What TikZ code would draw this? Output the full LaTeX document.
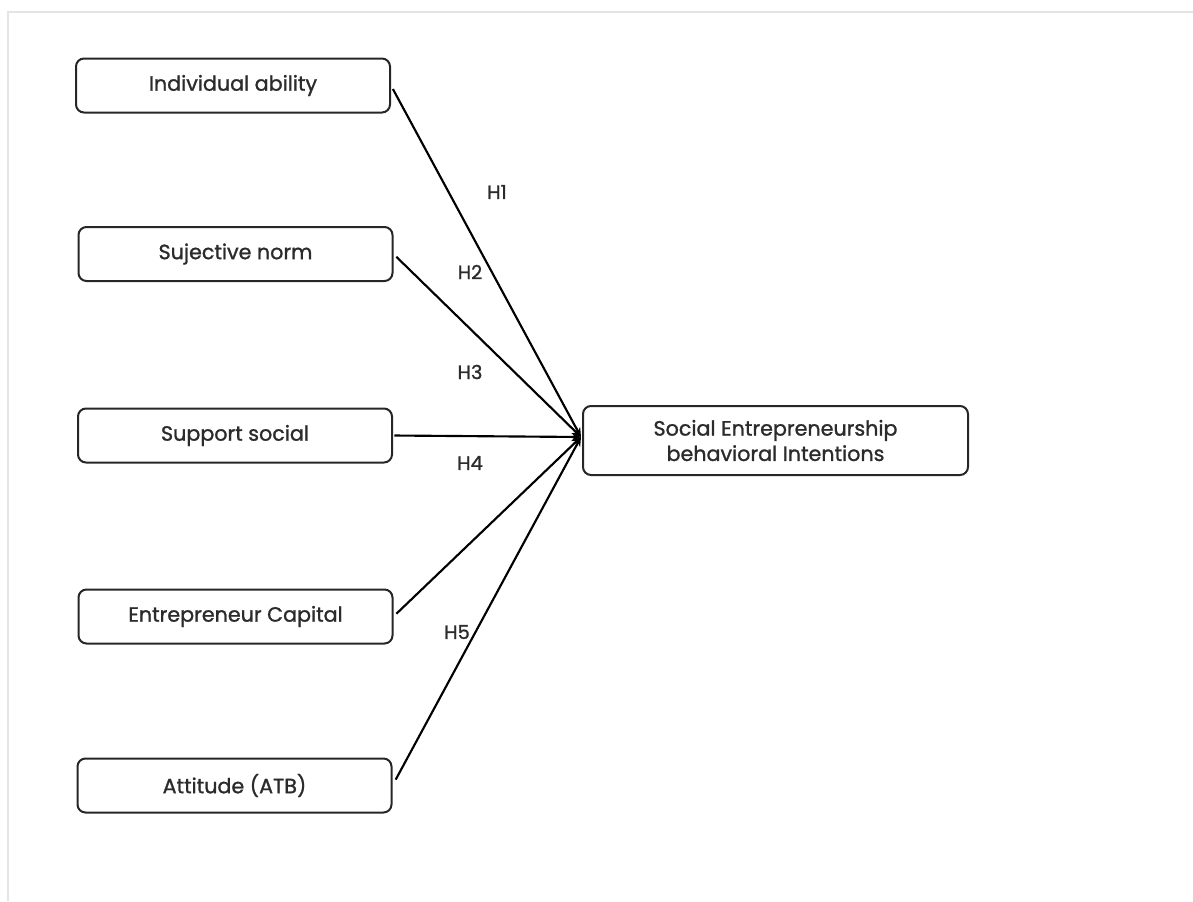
\documentclass[tikz,border=0pt]{standalone}
\usepackage{fontspec}
\setmainfont{Poppins}[FakeBold=1.2,AutoFakeBold=1.2]
\usetikzlibrary{arrows.meta}
\definecolor{txt}{HTML}{2B2B2B}
\definecolor{frame}{HTML}{E4E4E4}
\begin{document}
\begin{tikzpicture}[x=0.75pt,y=-0.75pt,
  box/.style={draw=black!85,line width=1.5pt,rounded corners=6pt,minimum width=235.5pt,minimum height=40.5pt,inner sep=0pt,font=\fontsize{15.5}{18}\selectfont\bfseries,text=txt},
  tbox/.style={box,minimum width=288.75pt,minimum height=51.75pt,align=center,font=\fontsize{15.5}{19}\selectfont\bfseries},
  link/.style={line width=1.6pt,black,shorten <=3pt,-{Stealth[length=7pt,width=6pt]}},
  hlab/.style={font=\fontsize{14.5}{16}\selectfont\bfseries,text=txt}]
\useasboundingbox (0,0) rectangle (1193,901);
\draw[frame,line width=1.2pt] (8,901) -- (8,12) -- (1193,12);
\node[box] (b1) at (233,85.5) {Individual ability};
\node[box] (b2) at (235.5,254) {Sujective norm};
\node[box] (b3) at (235,435.5) {Support social};
\node[box] (b4) at (235.5,616.5) {Entrepreneur Capital};
\node[box] (b5) at (234.5,785.5) {Attitude (ATB)};
\node[tbox] (t) at (775.5,440.5) {Social Entrepreneurship\\behavioral Intentions};
\coordinate (hub) at (581,437);
\draw[link] (b1.east) -- (hub);
\draw[link] (b2.east) -- (hub);
\draw[link,shorten <=1pt] (b3.east) -- (hub);
\draw[link] (b4.east) -- (hub);
\draw[link,shorten <=5pt] (b5.east) -- (hub);
\node[hlab] (h1) at (497,192) {H1};
\node[hlab] (h2) at (470,272) {H2};
\node[hlab] (h3) at (470,372) {H3};
\node[hlab] (h4) at (470,463) {H4};
\node[hlab] (h5) at (457,632) {H5};
\end{tikzpicture}
\end{document}
